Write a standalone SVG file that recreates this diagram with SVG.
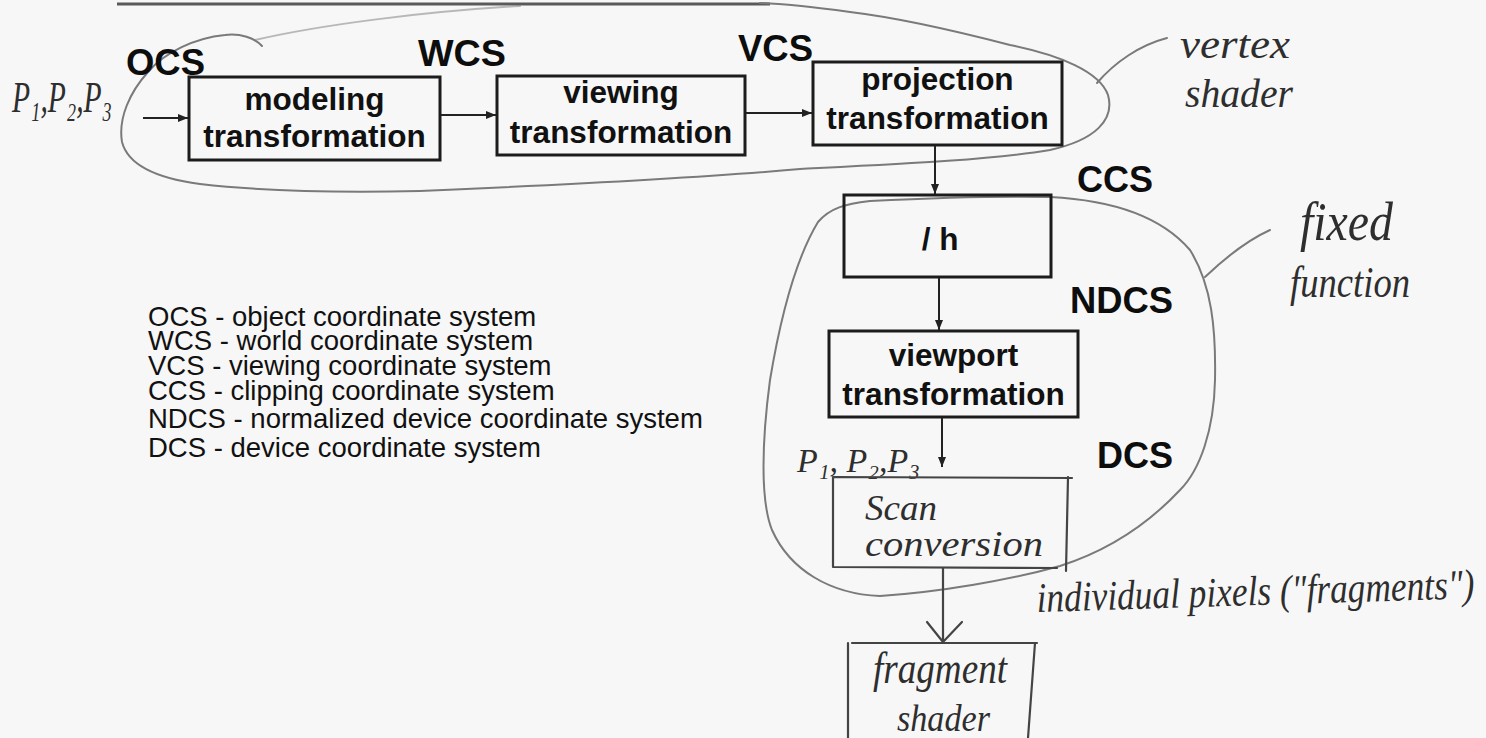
<svg xmlns="http://www.w3.org/2000/svg" width="1486" height="738" viewBox="0 0 1486 738">
<style>
.box{fill:none;stroke:#1c1c1c;stroke-width:3}
.bt{font-family:"Liberation Sans",Arial,sans-serif;font-weight:bold;font-size:31.5px;fill:#111;text-anchor:middle}
.lbl{font-family:"Liberation Sans",Arial,sans-serif;font-weight:bold;font-size:36px;fill:#0d0d0d}
.leg{font-family:"Liberation Sans",Arial,sans-serif;font-size:27.5px;fill:#111}
.arr{stroke:#222;stroke-width:2;fill:none}
.pen{fill:none;stroke:#7a7a7a;stroke-width:2;stroke-linecap:round;stroke-linejoin:round}
.penk{fill:none;stroke:#444;stroke-width:2.2;stroke-linecap:round;stroke-linejoin:round}
.hand{font-family:"Liberation Serif","DejaVu Serif",serif;font-style:italic;fill:#2e2e2e}
</style>
<defs>
<marker id="ah" markerUnits="userSpaceOnUse" markerWidth="11" markerHeight="9" refX="10" refY="4" orient="auto">
<path d="M0,0 L10,4 L0,8 z" fill="#222"/>
</marker>
</defs>
<rect width="1486" height="738" fill="#f7f7f7"/>
<line x1="117" y1="4" x2="770" y2="4" stroke="#5a5a5a" stroke-width="3"/>

<g id="annotations">
<path id="vertex-shader-outline" class="pen" d="M262 46 C255 38,240 33,225 35 C195 38,165 52,148 72 C130 92,118 118,122 142 C128 165,155 178,200 184 C260 191,330 193,420 191 C560 185,700 178,800 169 C900 164,990 160,1050 150 C1095 140,1115 120,1108 95 C1100 72,1060 55,1010 45 C960 32,900 18,850 12 C820 8,790 4,760 3"/>
<path class="pen" stroke-opacity="0.5" d="M255 40 C320 25,420 12,520 6"/>
<path class="pen" d="M1097 83 C1115 62,1140 45,1167 38"/>
<path id="fixed-function-outline" class="pen" d="M870 201 C930 198,1000 196,1050 197 C1110 200,1160 215,1190 250 C1212 285,1216 330,1215 380 C1214 430,1200 470,1180 490 C1150 522,1110 550,1060 566 C1010 580,940 592,880 596 C830 594,790 570,772 530 C760 500,762 440,770 380 C780 320,795 260,818 222 C830 208,845 204,870 201"/>
<path class="pen" d="M1205 277 C1225 258,1248 240,1270 230"/>
<text class="hand" x="1180" y="58" font-size="40" textLength="110" lengthAdjust="spacingAndGlyphs">vertex</text>
<text class="hand" x="1185" y="107" font-size="40" textLength="108" lengthAdjust="spacingAndGlyphs">shader</text>
<text class="hand" x="1300" y="240" font-size="54" textLength="93" lengthAdjust="spacingAndGlyphs">fixed</text>
<text class="hand" x="1290" y="297" font-size="44" textLength="120" lengthAdjust="spacingAndGlyphs">function</text>
<text class="hand" x="12" y="112" font-size="44" textLength="100" lengthAdjust="spacingAndGlyphs">P₁,P₂,P₃</text>
<text class="hand" x="797" y="472" font-size="34" textLength="123" lengthAdjust="spacingAndGlyphs">P₁, P₂,P₃</text>
<text class="hand" transform="translate(1037 612) rotate(-1.8) scale(1 1.2)" x="0" y="0" font-size="35" textLength="438" lengthAdjust="spacingAndGlyphs">individual pixels ("fragments")</text>
</g>

<g id="legend">
<text class="leg" x="148" y="326">OCS - object coordinate system</text>
<text class="leg" x="148" y="350">WCS - world coordinate system</text>
<text class="leg" x="148" y="375">VCS - viewing coordinate system</text>
<text class="leg" x="148" y="400">CCS - clipping coordinate system</text>
<text class="leg" x="148" y="428">NDCS - normalized device coordinate system</text>
<text class="leg" x="148" y="457">DCS - device coordinate system</text>
</g>

<g id="labels">
<text class="lbl" x="126" y="75" textLength="79" lengthAdjust="spacingAndGlyphs">OCS</text>
<text class="lbl" x="418" y="66" textLength="88" lengthAdjust="spacingAndGlyphs">WCS</text>
<text class="lbl" x="738" y="61" textLength="75" lengthAdjust="spacingAndGlyphs">VCS</text>
<text class="lbl" x="1077" y="192" textLength="76" lengthAdjust="spacingAndGlyphs">CCS</text>
<text class="lbl" x="1070" y="313" textLength="103" lengthAdjust="spacingAndGlyphs">NDCS</text>
<text class="lbl" x="1097" y="468" textLength="76" lengthAdjust="spacingAndGlyphs">DCS</text>
</g>

<g id="modeling">
<rect class="box" x="189" y="77" width="251" height="83"/>
<text class="bt" x="314.5" y="110">modeling</text>
<text class="bt" x="314.5" y="147">transformation</text>
</g>
<g id="viewing">
<rect class="box" x="497" y="76" width="248" height="79"/>
<text class="bt" x="621" y="103">viewing</text>
<text class="bt" x="621" y="143">transformation</text>
</g>
<g id="projection">
<rect class="box" x="813" y="62" width="249" height="83"/>
<text class="bt" x="937.5" y="90">projection</text>
<text class="bt" x="937.5" y="129">transformation</text>
</g>
<g id="divide-h">
<rect class="box" x="844" y="195" width="207" height="82"/>
<text class="bt" x="940" y="250">/ h</text>
</g>
<g id="viewport">
<rect class="box" x="829" y="331" width="249" height="86"/>
<text class="bt" x="953.5" y="366">viewport</text>
<text class="bt" x="953.5" y="405">transformation</text>
</g>
<g id="scan-conversion">
<path class="penk" d="M833 477 L1072 478 M1068 477 L1066 571 M833 567 L1057 568 M833 477 L833 567"/>
<text class="hand" x="865" y="520" font-size="36" textLength="72" lengthAdjust="spacingAndGlyphs">Scan</text>
<text class="hand" x="865" y="556" font-size="36" textLength="178" lengthAdjust="spacingAndGlyphs">conversion</text>
</g>
<g id="fragment-shader">
<path class="penk" d="M852 643 L1037 643 M848 643 L848 738 M1035 643 L1028 738"/>
<text class="hand" x="873" y="683" font-size="44" textLength="134" lengthAdjust="spacingAndGlyphs">fragment</text>
<text class="hand" x="897" y="731" font-size="38" textLength="93" lengthAdjust="spacingAndGlyphs">shader</text>
</g>

<g id="connectors">
<line class="arr" x1="143" y1="118" x2="188" y2="118" marker-end="url(#ah)"/>
<line class="arr" x1="441" y1="115" x2="496" y2="115" marker-end="url(#ah)"/>
<line class="arr" x1="746" y1="113" x2="812" y2="113" marker-end="url(#ah)"/>
<line class="arr" x1="935" y1="146" x2="935" y2="194" marker-end="url(#ah)"/>
<line class="arr" x1="939" y1="278" x2="939" y2="330" marker-end="url(#ah)"/>
<line class="arr" x1="942" y1="418" x2="942" y2="467" marker-end="url(#ah)"/>
<path class="penk" d="M943 568 L943 642 M927 622 L943 642 L962 622"/>
</g>
</svg>
